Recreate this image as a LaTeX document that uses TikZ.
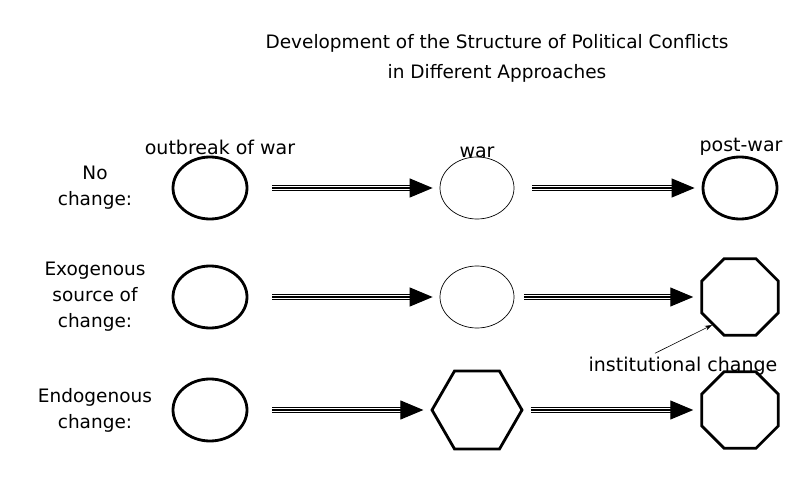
\documentclass[tikz,border=0pt]{standalone}
\usepackage{fontspec}
\setmainfont{DejaVu Sans}
\usetikzlibrary{arrows.meta,shapes.geometric,positioning}

\tikzset{
    stage/.style={draw,ellipse,line width=2.8pt,minimum width=74pt,minimum height=62pt,inner sep=0pt},
    thinstage/.style={stage,line width=0.7pt},
    hexstage/.style={draw,regular polygon,regular polygon sides=6,line width=2.8pt,minimum size=90pt,inner sep=0pt},
    octstage/.style={draw,regular polygon,regular polygon sides=8,line width=2.8pt,minimum size=83pt,inner sep=0pt},
    triple/.style={line width=1.1pt,-{Triangle[length=23pt,width=19pt]},shorten <=24pt,shorten >=7pt,
        preaction={draw,line width=5.4pt,-,shorten >=29pt},
        preaction={draw=white,line width=3.2pt,-,shorten >=29pt}},
    rowlabel/.style={align=center,font=\fontsize{18.5}{26}\selectfont},
    colhead/.style={font=\fontsize{19}{22}\selectfont}
}

\begin{document}
\begin{tikzpicture}[x=1pt,y=1pt]
    \useasboundingbox (0,0) rectangle (795,477);
    % Title
    \node (title) at (497,419) [align=center,font=\fontsize{18.5}{30}\selectfont]
        {Development of the Structure of Political Conflicts\\in Different Approaches};
    % Column heads
    \node (hbefore) at (220,330) [colhead] {outbreak of war};
    \node (hwar) at (477,325) [colhead] {war};
    \node (hafter) at (741,330) [colhead] {post-war};
    % Row labels
    \node (lnone) at (95,289) [rowlabel] {No\\change:};
    \node (lexo) at (95,180) [rowlabel] {Exogenous\\source of\\change:};
    \node (lendo) at (95,67) [rowlabel] {Endogenous\\change:};
    % No change
    \node (a1) at (210,289) [stage] {};
    \node (a2) at (477,289) [thinstage] {};
    \node (a3) at (740,289) [stage] {};
    \draw[triple] (a1) -- (a2);
    \draw[triple,shorten <=18pt] (a2) -- (a3);
    % Exogenous source of change
    \node (b1) at (210,180) [stage] {};
    \node (b2) at (477,180) [thinstage] {};
    \node (b3) at (740,180) [octstage] {};
    \draw[triple] (b1) -- (b2);
    \draw[triple,shorten <=10pt] (b2) -- (b3);
    \node (inst) at (683,111) [colhead] {institutional change};
    \draw[-{Stealth[length=7pt,width=5pt]},line width=0.6pt] ([xshift=-28pt]inst.north) -- (b3.225);
    % Endogenous change
    \node (c1) at (210,67) [stage] {};
    \node (c2) at (477,67) [hexstage] {};
    \node (c3) at (740,67) [octstage] {};
    \draw[triple] (c1) -- (c2);
    \draw[triple,shorten <=7pt] (c2) -- (c3);
\end{tikzpicture}
\end{document}
